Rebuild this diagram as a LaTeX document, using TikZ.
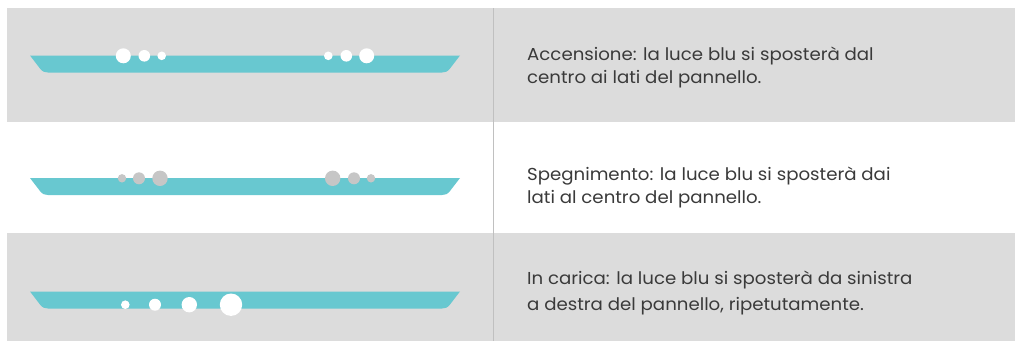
\documentclass[tikz,border=0pt]{standalone}
\usepackage{fontspec}
\setmainfont{Poppins}[FakeStretch=1.05]
\usetikzlibrary{positioning}
\definecolor{bandgray}{RGB}{220,220,220}
\definecolor{ledteal}{RGB}{104,200,208}
\definecolor{dotgray}{RGB}{198,198,198}
\definecolor{rulegray}{RGB}{192,192,192}
\definecolor{textgray}{RGB}{58,58,58}

\begin{document}
\begin{tikzpicture}[x=1pt, y=-1pt,
  panel/.pic={\fill[ledteal] (0,0) -- (10,13) .. controls (12.5,16.3) and (15,17) .. (18,17) -- (412,17) .. controls (415,17) and (417.5,16.3) .. (420,13) -- (430,0) -- cycle;},
  led/.style={fill=white},
  ledoff/.style={fill=dotgray},
  desc/.style={anchor=west, align=left, text=textgray, inner sep=0pt, font=\fontsize{17.3}{23.4}\selectfont}]
\useasboundingbox (0,0) rectangle (1015,341);
% bande di sfondo
\fill[bandgray] (7,8) rectangle (1015,122);
\fill[bandgray] (7,233) rectangle (1015,341);
\draw[rulegray, line width=1pt] (493,8) -- (493,341);
% pannelli
\foreach \y in {55.5,178,291.5}
    \pic at (30,\y) {panel};
% accensione: dal centro ai lati
\foreach \x/\r in {123.3/7.5,144.3/5.8,161.7/4.3,328.3/4.3,346.3/5.8,366.7/7.5}
    \fill[led] (\x,55.8) circle[radius=\r pt];
% spegnimento: dai lati al centro
\foreach \x/\r in {122/4.2,139/6,160/7.7,332.7/7.7,354/6,371/4.2}
    \fill[ledoff] (\x,178.3) circle[radius=\r pt];
% in carica
\foreach \x/\r in {125.3/4.3,155/6,189.3/7.7,231/11.2}
    \fill[led] (\x,304.7) circle[radius=\r pt];
% testi
\node[desc] (acc) at (527,67.5) {Accensione: la luce blu si sposterà dal\\centro ai lati del pannello.};
\node[desc] (spe) at (527,187.5) {Spegnimento: la luce blu si sposterà dai\\lati al centro del pannello.};
\node[desc] (car) at (527,292.5) {In carica: la luce blu si sposterà da sinistra\\[2.6pt]a destra del pannello, ripetutamente.};
\end{tikzpicture}
\end{document}
